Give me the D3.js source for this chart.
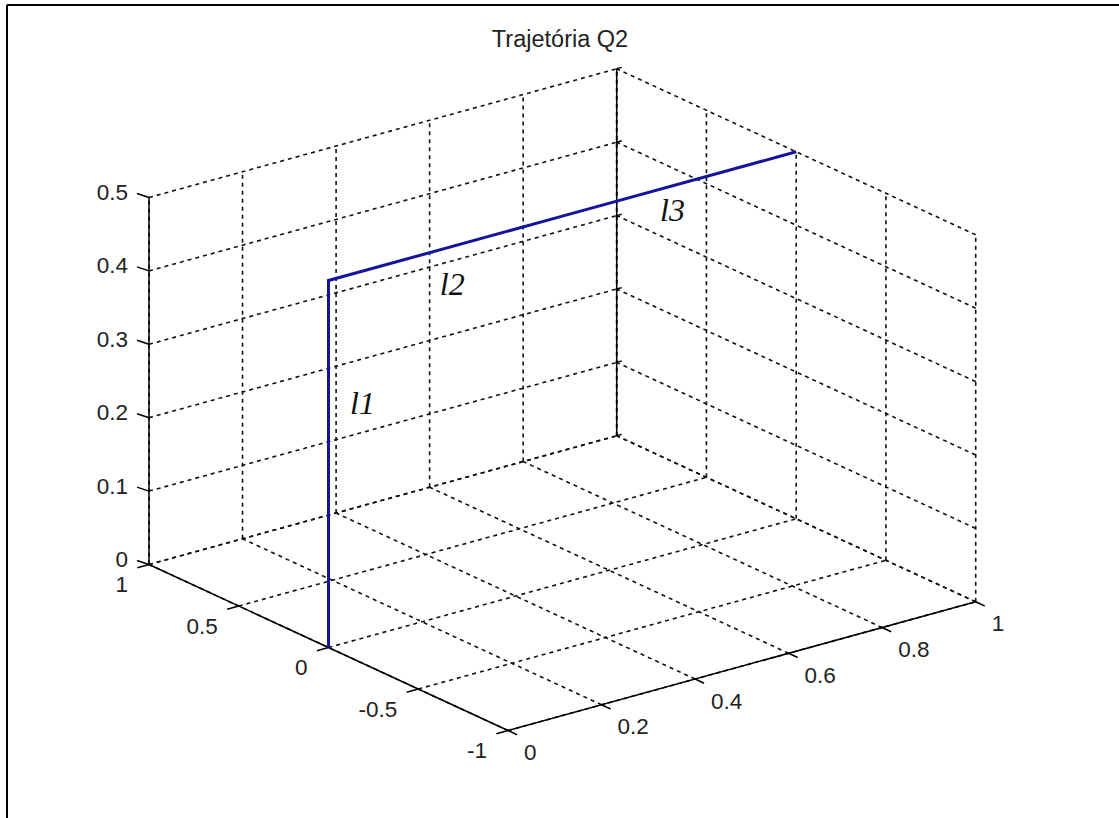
<!DOCTYPE html>
<html>
<head>
<meta charset="utf-8">
<script src="https://cdn.jsdelivr.net/npm/d3@7"></script>
<style>
  html, body { margin: 0; padding: 0; background: #fff; }
  svg { display: block; }
</style>
</head>
<body>
<div id="chart"></div>
<script>
// ---- data ----
const title = "Trajetória Q2";
const xTicks = [0, 0.2, 0.4, 0.6, 0.8, 1];
const yTicks = [-1, -0.5, 0, 0.5, 1];
const zTicks = [0, 0.1, 0.2, 0.3, 0.4, 0.5];
const xTickLabels = ["0", "0.2", "0.4", "0.6", "0.8", "1"];
const yTickLabels = ["-1", "-0.5", "0", "0.5", "1"];
const zTickLabels = ["0", "0.1", "0.2", "0.3", "0.4", "0.5"];
// trajectory (x, y, z)
const trajX = [0, 0, 0.5, 1];
const trajY = [0, 0, 0, 0];
const trajZ = [0, 0.5, 0.5, 0.5];
// segment annotations
const annText = ["l", "l", "l"];
const annSub = ["1", "2", "3"];
const annX = [0.046, 0.238, 0.709];
const annY = [0, 0, 0];
const annZ = [0.31, 0.439, 0.457];

// ---- layout ----
const W = 1119, H = 818;
const svg = d3.select("#chart").append("svg").attr("width", W).attr("height", H);
svg.append("rect").attr("width", W).attr("height", H).attr("fill", "#fff");
// frame (top and left edges only visible)
svg.append("line").attr("x1", 7).attr("y1", 5).attr("x2", W).attr("y2", 5)
  .attr("stroke", "#000").attr("stroke-width", 2);
svg.append("line").attr("x1", 7).attr("y1", 5).attr("x2", 7).attr("y2", H)
  .attr("stroke", "#000").attr("stroke-width", 2);

// 3D projection via linear scales (orthographic, MATLAB default view)
const sx = d3.scaleLinear().domain([0, 1]).range([0, 1]);
const sy = d3.scaleLinear().domain([-1, 1]).range([0, 2]);
const sz = d3.scaleLinear().domain([0, 0.5]).range([0, 0.5]);
const O = [508, 730.5];
const EX = [467.7, -128.7];
const EY = [-179.5, -83];
const EZ = [0, -734];
function P(x, y, z) {
  const a = sx(x), b = sy(y), c = sz(z);
  return [O[0] + a * EX[0] + b * EY[0] + c * EZ[0],
          O[1] + a * EX[1] + b * EY[1] + c * EZ[1]];
}
const line = d3.line();
const xMin = 0, xMax = 1, yMin = -1, yMax = 1, zMin = 0, zMax = 0.5;

const gGrid = svg.append("g").attr("fill", "none").attr("stroke", "#111")
  .attr("stroke-width", 1.6).attr("stroke-dasharray", "4,4");
function seg(g, a, b) { g.append("path").attr("d", line([P(...a), P(...b)])); }

// floor z = 0
xTicks.forEach(x => seg(gGrid, [x, yMin, zMin], [x, yMax, zMin]));
yTicks.forEach(y => seg(gGrid, [xMin, y, zMin], [xMax, y, zMin]));
// back wall y = 1
xTicks.forEach(x => seg(gGrid, [x, yMax, zMin], [x, yMax, zMax]));
zTicks.forEach(z => seg(gGrid, [xMin, yMax, z], [xMax, yMax, z]));
// back wall x = 1
yTicks.forEach(y => seg(gGrid, [xMax, y, zMin], [xMax, y, zMax]));
zTicks.forEach(z => seg(gGrid, [xMax, yMin, z], [xMax, yMax, z]));

// solid axes
const gAx = svg.append("g").attr("fill", "none").attr("stroke", "#000").attr("stroke-width", 1.5);
seg(gAx, [xMin, yMin, zMin], [xMax, yMin, zMin]);   // x axis
seg(gAx, [xMin, yMin, zMin], [xMin, yMax, zMin]);   // y axis
seg(gAx, [xMin, yMax, zMin], [xMin, yMax, zMax]);   // z axis
seg(gAx, [xMax, yMax, zMin], [xMax, yMax, zMax]);   // back vertical

function tick(p, d) {
  gAx.append("path").attr("d", line([p, [p[0] + d[0], p[1] + d[1]]]));
}
const fontTick = "22.5px 'Liberation Sans', Arial, sans-serif";
// x ticks
xTicks.forEach((x, i) => {
  const p = P(x, yMin, zMin);
  tick(p, [9, 4.2]);
  svg.append("text").attr("x", p[0] + 16).attr("y", p[1] + 22)
    .attr("dominant-baseline", "central").attr("text-anchor", "start")
    .style("font", fontTick).attr("fill", "#222").text(xTickLabels[i]);
});
// y ticks
yTicks.forEach((y, i) => {
  const p = P(xMin, y, zMin);
  tick(p, [-11.6, 3.2]);
  svg.append("text").attr("x", p[0] - 21).attr("y", p[1] + 20)
    .attr("dominant-baseline", "central").attr("text-anchor", "end")
    .style("font", fontTick).attr("fill", "#222").text(yTickLabels[i]);
});
// z ticks
zTicks.forEach((z, i) => {
  const p = P(xMin, yMax, z);
  tick(p, [-12, -4]);
  const q = P(xMax, yMax, z);
  tick(q, [5, -1.4]);
  svg.append("text").attr("x", p[0] - 21).attr("y", p[1] - 5)
    .attr("dominant-baseline", "central").attr("text-anchor", "end")
    .style("font", fontTick).attr("fill", "#222").text(zTickLabels[i]);
});

// trajectory
const pts = trajX.map((x, i) => P(x, trajY[i], trajZ[i]));
svg.append("path").attr("d", line(pts)).attr("fill", "none")
  .attr("stroke", "#14149a").attr("stroke-width", 3).attr("stroke-linejoin", "miter");

// annotations
annText.forEach((t, i) => {
  const p = P(annX[i], annY[i], annZ[i]);
  svg.append("text").attr("x", p[0]).attr("y", p[1])
    .style("font", "italic 32px 'Liberation Serif', 'Times New Roman', serif")
    .attr("fill", "#111").text(t + annSub[i]);
});

// title
svg.append("text").attr("x", 560).attr("y", 47).attr("text-anchor", "middle")
  .style("font", "23.5px 'Liberation Sans', Arial, sans-serif").attr("fill", "#222").text(title);
</script>
</body>
</html>
